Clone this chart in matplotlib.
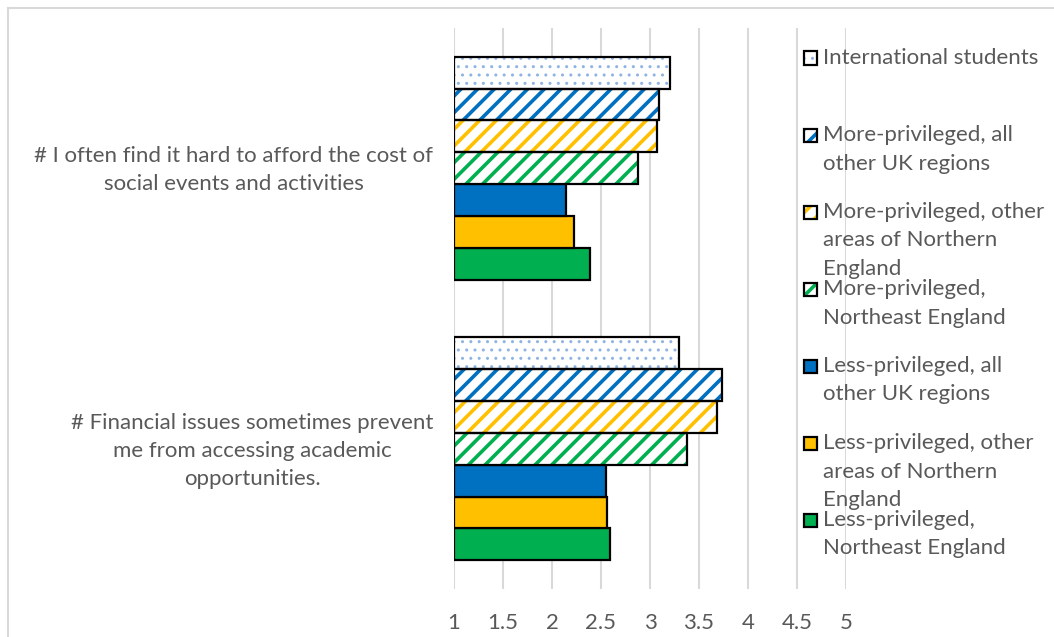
import numpy as np
import matplotlib.pyplot as plt
import matplotlib.transforms as mtransforms
from matplotlib.patches import Rectangle
from matplotlib.lines import Line2D

plt.rcParams['font.family'] = ['Lato', 'DejaVu Sans']

questions = ['# Financial issues sometimes prevent\nme from accessing academic\nopportunities.',
             '# I often find it hard to afford the cost of\nsocial events and activities']

# series listed bottom bar first
groups = ['Less-privileged,\nNortheast England',
          'Less-privileged, other\nareas of Northern\nEngland',
          'Less-privileged, all\nother UK regions',
          'More-privileged,\nNortheast England',
          'More-privileged, other\nareas of Northern\nEngland',
          'More-privileged, all\nother UK regions',
          'International students']
scores = [[2.59, 2.39],
          [2.56, 2.22],
          [2.55, 2.14],
          [3.38, 2.88],
          [3.68, 3.07],
          [3.73, 3.09],
          [3.30, 3.20]]
colors = ['#00b050', '#ffc000', '#0070c0', '#00b050', '#ffc000', '#0070c0', '#8fb4e3']
hatches = [None, None, None, '//', '//', '//', '..']
hatch_lw = {'//': 2.6, '..': 1.0}

text_col = '#595959'
grid_col = '#d9d9d9'
fs = 16

fig = plt.figure(figsize=(10.54, 6.37), dpi=100)
ax = fig.add_axes([454 / 1054, 48 / 637, 392 / 1054, 561 / 637])

y = np.arange(len(questions))
h = 0.1136
for i, (vals, c, ht) in enumerate(zip(scores, colors, hatches)):
    pos = y + (i - 3) * h
    left = 1
    width = np.array(vals) - left
    if ht is None:
        ax.barh(pos, width, left=left, height=h, color=c, edgecolor='black',
                linewidth=1.6, zorder=3)
    else:
        with plt.rc_context({'hatch.linewidth': hatch_lw[ht]}):
            ax.barh(pos, width, left=left, height=h, facecolor='white', edgecolor=c,
                    hatch=ht, linewidth=0, zorder=3)
        ax.barh(pos, width, left=left, height=h, fill=False, edgecolor='black',
                linewidth=1.6, zorder=4)

ax.set_xlim(1, 5)
ax.set_ylim(-0.5, 1.5)
ax.set_xticks(np.arange(1, 5.01, 0.5))
ax.set_xticklabels(['1', '1.5', '2', '2.5', '3', '3.5', '4', '4.5', '5'])
ax.set_yticks(y)
ax.set_yticklabels(questions, multialignment='center', linespacing=1.5)
ax.tick_params(axis='both', length=0, labelsize=fs, labelcolor=text_col)
ax.tick_params(axis='x', pad=17)
ax.tick_params(axis='y', pad=15)
ax.grid(axis='x', color=grid_col, linewidth=1.5, zorder=0)
for s in ax.spines.values():
    s.set_visible(False)

# nudge question labels up a little
shift = mtransforms.ScaledTranslation(0, 4 / 100, fig.dpi_scale_trans)
for lbl in ax.get_yticklabels():
    lbl.set_transform(lbl.get_transform() + shift)

# chart border (left and top edges visible)
fig.add_artist(Line2D([8 / 1054, 8 / 1054], [0, 1 - 8 / 637], transform=fig.transFigure,
                      color=grid_col, linewidth=1.5))
fig.add_artist(Line2D([8 / 1054, 1], [1 - 8 / 637, 1 - 8 / 637], transform=fig.transFigure,
                      color=grid_col, linewidth=1.5))

# legend, top entry first
for k, i in enumerate(range(len(groups) - 1, -1, -1)):
    ytop = 58 + 77 * k
    sq = 13
    box = (804 / 1054, 1 - (ytop + sq / 2) / 637)
    if hatches[i] is not None:
        with plt.rc_context({'hatch.linewidth': hatch_lw[hatches[i]]}):
            fig.add_artist(Rectangle(box, sq / 1054, sq / 637, transform=fig.transFigure,
                                     facecolor='white', edgecolor=colors[i],
                                     hatch=hatches[i], linewidth=0))
        fc = 'none'
    else:
        fc = colors[i]
    fig.add_artist(Rectangle(box, sq / 1054, sq / 637, transform=fig.transFigure,
                             facecolor=fc, edgecolor='black', linewidth=1.6))
    for j, line in enumerate(groups[i].split('\n')):
        fig.text(823 / 1054, 1 - (ytop + 28.5 * j) / 637, line, fontsize=fs,
                 color=text_col, va='center', ha='left')

fig.savefig('out.png', dpi=100)
